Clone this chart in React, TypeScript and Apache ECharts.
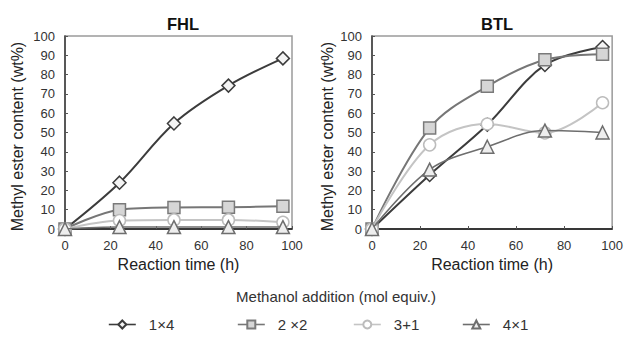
import React, { useEffect, useRef } from "react";
import * as echarts from "echarts";

const hours = [0, 24, 48, 72, 96];
const seriesNames = ["1×4", "2 ×2", "3+1", "4×1"];
const fhl14 = [0, 24, 54.7, 74.3, 88.4];
const fhl22 = [0, 10, 11.2, 11.3, 11.8];
const fhl31 = [0, 4.4, 4.7, 4.7, 3.5];
const fhl41 = [0, 1, 1, 1, 1];
const btl14 = [0, 28, 54, 85, 94.3];
const btl22 = [0, 52.3, 73.9, 87.7, 90.6];
const btl31 = [0, 43.6, 54.4, 49.8, 65.4];
const btl41 = [0, 30.8, 42.6, 51, 50];

const FONT = "Liberation Sans, Arial, sans-serif";

const styles = [
  { symbol: "diamond", size: 13, line: "#3c3c3c", width: 2, fill: "#f4f4f4", border: "#3c3c3c" },
  { symbol: "rect", size: 12, line: "#767676", width: 2, fill: "#d6d6d6", border: "#7a7a7a" },
  { symbol: "circle", size: 12, line: "#c4c4c4", width: 2, fill: "#ffffff", border: "#bcbcbc" },
  { symbol: "triangle", size: 13, line: "#6e6e6e", width: 1.6, fill: "#eeeeee", border: "#6e6e6e" },
];

function makeSeries(data: number[][], idx: number) {
  return data.map((vals, i) => {
    const s = styles[i];
    return {
      type: "line",
      name: seriesNames[i],
      xAxisIndex: idx,
      yAxisIndex: idx,
      data: hours.map((h, j) => [h, vals[j]]),
      smooth: 0.35,
      symbol: s.symbol,
      symbolSize: s.size,
      showAllSymbol: true,
      lineStyle: { color: s.line, width: s.width },
      itemStyle: { color: s.fill, borderColor: s.border, borderWidth: 1.5 },
      z: 2 + i,
    };
  });
}

function xAxis(idx: number) {
  return {
    type: "value",
    gridIndex: idx,
    min: 0,
    max: 100,
    interval: 20,
    name: "Reaction time (h)",
    nameLocation: "middle",
    nameGap: 26,
    nameTextStyle: { fontFamily: FONT, fontSize: 16, color: "#222" },
    axisLine: { show: true, onZero: false, lineStyle: { color: "#111", width: 1.5 } },
    axisTick: { show: true, inside: true, length: 3, lineStyle: { color: "#555" } },
    axisLabel: { fontFamily: FONT, fontSize: 13, color: "#333", margin: 10 },
    splitLine: { show: false },
  };
}

function yAxis(idx: number, gap: number) {
  return {
    type: "value",
    gridIndex: idx,
    min: 0,
    max: 100,
    interval: 10,
    name: "Methyl ester content (wt%)",
    nameLocation: "middle",
    nameGap: gap,
    nameTextStyle: { fontFamily: FONT, fontSize: 16, color: "#222", padding: [0, 8, 0, 0] },
    axisLine: { show: true, lineStyle: { color: "#3a3a3a", width: 1.5 } },
    axisTick: { show: true, inside: true, length: 3, lineStyle: { color: "#555" } },
    axisLabel: { fontFamily: FONT, fontSize: 13, color: "#333", margin: 10 },
    splitLine: { show: false },
  };
}

const legendLefts = [108, 237, 353, 462];

export default function App() {
  const ref = useRef<HTMLDivElement>(null);
  useEffect(() => {
    if (!ref.current) return;
    const chart = echarts.init(ref.current, null, { renderer: "svg" });
    chart.setOption({
      animation: false,
      backgroundColor: "#ffffff",
      title: [
        { text: "FHL", left: 178, top: 10, textAlign: "center", textStyle: { fontFamily: FONT, fontSize: 16.5, fontWeight: "bold", color: "#111" } },
        { text: "BTL", left: 492, top: 10, textAlign: "center", textStyle: { fontFamily: FONT, fontSize: 16.5, fontWeight: "bold", color: "#111" } },
      ],
      grid: [
        { left: 65, top: 36, width: 227, height: 193, show: true, borderColor: "#9a9a9a", borderWidth: 1.5, backgroundColor: "transparent" },
        { left: 372, top: 36, width: 241, height: 193, show: true, borderColor: "#9a9a9a", borderWidth: 1.5, backgroundColor: "transparent" },
      ],
      xAxis: [xAxis(0), xAxis(1)],
      yAxis: [yAxis(0, 40), yAxis(1, 37)],
      legend: seriesNames.map((n, i) => ({
        data: [n],
        left: legendLefts[i],
        top: 317,
        padding: 0,
        itemWidth: 27,
        itemHeight: 10,
        selectedMode: false,
        lineStyle: { width: 1.6 },
        textStyle: { fontFamily: FONT, fontSize: 15, color: "#333", padding: [0, 0, 0, 8] },
      })),
      graphic: [
        {
          type: "text",
          x: 336,
          y: 296,
          style: {
            text: "Methanol addition (mol equiv.)",
            fontFamily: FONT,
            fontSize: 15,
            fill: "#333",
            align: "center",
            verticalAlign: "middle",
          },
        },
      ],
      series: [
        ...makeSeries([fhl14, fhl22, fhl31, fhl41], 0),
        ...makeSeries([btl14, btl22, btl31, btl41], 1),
      ],
    });
    return () => chart.dispose();
  }, []);
  return <div ref={ref} style={{ width: 626, height: 337, position: "absolute", left: 0, top: 0 }} />;
}
